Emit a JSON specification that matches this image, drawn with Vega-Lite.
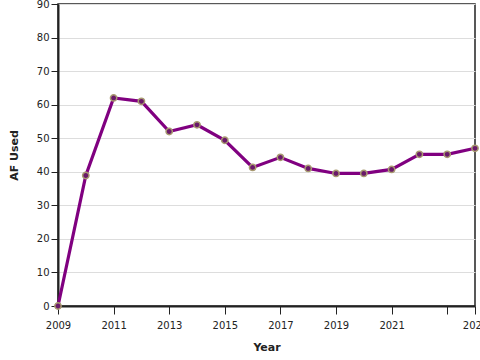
{
  "$schema": "https://vega.github.io/schema/vega-lite/v6.json",
  "width": 417,
  "height": 302,
  "autosize": {"type": "none"},
  "padding": {"left": 58, "top": 4, "right": 5, "bottom": 54},
  "background": "white",
  "config": {
    "font": "DejaVu Sans",
    "view": {"stroke": "#222", "strokeWidth": 1.5},
    "axis": {
      "domainColor": "#222",
      "domainWidth": 2,
      "tickColor": "#222",
      "labelColor": "#222",
      "titleColor": "#222",
      "labelFontSize": 10,
      "titleFontSize": 11,
      "titleFontWeight": "bold",
      "gridColor": "#ddd"
    }
  },
  "data": {
    "values": [
      {"Year": 2009, "AF": 0},
      {"Year": 2010, "AF": 38.9},
      {"Year": 2011, "AF": 62},
      {"Year": 2012, "AF": 61},
      {"Year": 2013, "AF": 52},
      {"Year": 2014, "AF": 54},
      {"Year": 2015, "AF": 49.4},
      {"Year": 2016, "AF": 41.3},
      {"Year": 2017, "AF": 44.3},
      {"Year": 2018, "AF": 41},
      {"Year": 2019, "AF": 39.5},
      {"Year": 2020, "AF": 39.5},
      {"Year": 2021, "AF": 40.7},
      {"Year": 2022, "AF": 45.2},
      {"Year": 2023, "AF": 45.2},
      {"Year": 2024, "AF": 47}
    ]
  },
  "encoding": {
    "x": {
      "field": "Year",
      "type": "quantitative",
      "scale": {"domain": [2009, 2024], "nice": false, "zero": false},
      "axis": {
        "values": [2009, 2011, 2013, 2015, 2017, 2019, 2021, 2023, 2024],
        "labelExpr": "datum.value == 2023 ? '' : datum.value",
        "grid": false,
        "labelBound": false,
        "labelFlush": false,
        "labelOverlap": false,
        "tickSize": 8,
        "labelPadding": 6,
        "titlePadding": 11
      },
      "title": "Year"
    },
    "y": {
      "field": "AF",
      "type": "quantitative",
      "scale": {"domain": [0, 90], "nice": false},
      "axis": {"values": [0, 10, 20, 30, 40, 50, 60, 70, 80, 90], "tickSize": 7, "titlePadding": 17},
      "title": "AF Used"
    }
  },
  "layer": [
    {"mark": {"type": "line", "color": "#800080", "strokeWidth": 3.2}},
    {"mark": {"type": "point", "filled": true, "fill": "#6a1a6a", "stroke": "#a89a70", "strokeWidth": 1.5, "size": 40, "opacity": 1}}
  ]
}
